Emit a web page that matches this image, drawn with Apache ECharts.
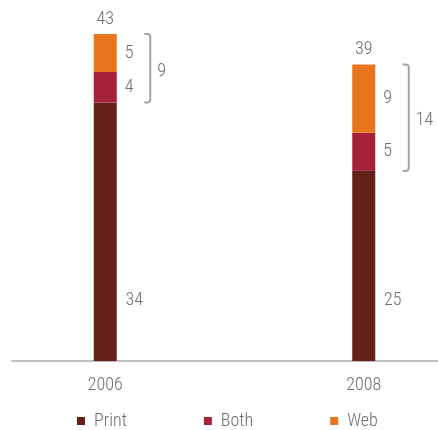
<!DOCTYPE html>
<html>
<head>
<meta charset="utf-8">
<script src="https://cdn.jsdelivr.net/npm/echarts@6/dist/echarts.min.js"></script>
<style>
  html, body { margin: 0; padding: 0; background: #fff; }
  #chart-container { width: 438px; height: 430px; }
</style>
</head>
<body>
<div id="chart-container"></div>
<script>
var years = ['2006', '2008'];
var printVals = [34, 25];
var bothVals = [4, 5];
var webVals = [5, 9];

var totals = years.map(function (y, i) { return printVals[i] + bothVals[i] + webVals[i]; });
var bracketData = years.map(function (y, i) {
  return [i, printVals[i], totals[i], bothVals[i] + webVals[i]];
});

var FONT = "'Roboto Condensed', 'Roboto', sans-serif";
var TEXT = '#6e6e6e';
var FS = 18;
var FW = 300;

var dom = document.getElementById('chart-container');
var myChart = echarts.init(dom, null, { renderer: 'canvas' });

var segLabel = {
  show: true,
  position: 'right',
  distance: 8,
  color: TEXT,
  fontFamily: FONT,
  fontWeight: FW,
  fontSize: FS
};

var option = {
  animation: false,
  textStyle: { fontFamily: FONT },
  legend: {
    data: ['Print', 'Both', 'Web'],
    left: 72,
    top: 407,
    icon: 'rect',
    itemWidth: 8,
    itemHeight: 8,
    itemGap: 77,
    textStyle: { color: TEXT, fontFamily: FONT, fontWeight: FW, fontSize: FS, padding: [0, 0, 0, 4] }
  },
  grid: [
    { left: -24, right: -55, top: 34, bottom: 69, outerBoundsMode: 'none' },
    { left: 12, right: 0, top: 34, bottom: 69, outerBoundsMode: 'none' }
  ],
  xAxis: [
    {
      type: 'category',
      gridIndex: 0,
      data: years,
      axisLine: { show: false },
      axisTick: { show: false },
      axisLabel: { color: TEXT, fontFamily: FONT, fontWeight: FW, fontSize: FS, margin: 15 }
    },
    {
      type: 'value',
      gridIndex: 1,
      min: 0,
      max: 1,
      axisLine: { show: true, lineStyle: { color: '#aaaaaa', width: 1.5 } },
      axisTick: { show: false },
      axisLabel: { show: false },
      splitLine: { show: false }
    }
  ],
  yAxis: [
    { type: 'value', gridIndex: 0, min: 0, max: 43, show: false },
    { type: 'value', gridIndex: 1, min: 0, max: 1, show: false }
  ],
  series: [
    {
      name: 'Print',
      type: 'bar',
      stack: 'total',
      barWidth: 23,
      data: printVals,
      itemStyle: { color: '#64211a' },
      label: {
        show: true,
        position: 'insideBottom',
        offset: [29, -47],
        color: TEXT,
        fontFamily: FONT,
        fontWeight: FW,
        fontSize: FS
      }
    },
    {
      name: 'Both',
      type: 'bar',
      stack: 'total',
      barWidth: 23,
      data: bothVals,
      itemStyle: { color: '#a6213b' },
      label: segLabel
    },
    {
      name: 'Web',
      type: 'bar',
      stack: 'total',
      barWidth: 23,
      data: webVals,
      itemStyle: { color: '#e8761f' },
      label: segLabel
    },
    {
      name: 'Total',
      type: 'bar',
      stack: 'total',
      barWidth: 23,
      data: years.map(function () { return 0; }),
      itemStyle: { color: 'transparent' },
      label: {
        show: true,
        position: 'top',
        distance: 6,
        color: TEXT,
        fontFamily: FONT,
        fontWeight: FW,
        fontSize: FS,
        formatter: function (p) { return totals[p.dataIndex]; }
      }
    },
    {
      name: 'Bracket',
      type: 'custom',
      xAxisIndex: 0,
      yAxisIndex: 0,
      data: bracketData,
      silent: true,
      renderItem: function (params, api) {
        var bottom = api.coord([api.value(0), api.value(1)]);
        var top = api.coord([api.value(0), api.value(2)]);
        var x = bottom[0] + 45;
        var x0 = x - 6;
        var yt = top[1];
        var yb = bottom[1];
        var r = 3;
        var d = 'M' + x0 + ' ' + yt + ' L' + (x - r) + ' ' + yt +
          ' Q' + x + ' ' + yt + ' ' + x + ' ' + (yt + r) +
          ' L' + x + ' ' + (yb - r) +
          ' Q' + x + ' ' + yb + ' ' + (x - r) + ' ' + yb +
          ' L' + x0 + ' ' + yb;
        return {
          type: 'group',
          children: [
            {
              type: 'path',
              shape: { pathData: d },
              style: { fill: 'none', stroke: '#a5a5a5', lineWidth: 2 }
            },
            {
              type: 'text',
              style: {
                text: String(api.value(3)),
                x: x + 7,
                y: (yt + yb) / 2 + 3,
                verticalAlign: 'middle',
                align: 'left',
                fill: TEXT,
                font: FW + ' ' + FS + 'px ' + FONT
              }
            }
          ]
        };
      }
    }
  ]
};

myChart.setOption(option);
window.addEventListener('resize', myChart.resize);
</script>
</body>
</html>
